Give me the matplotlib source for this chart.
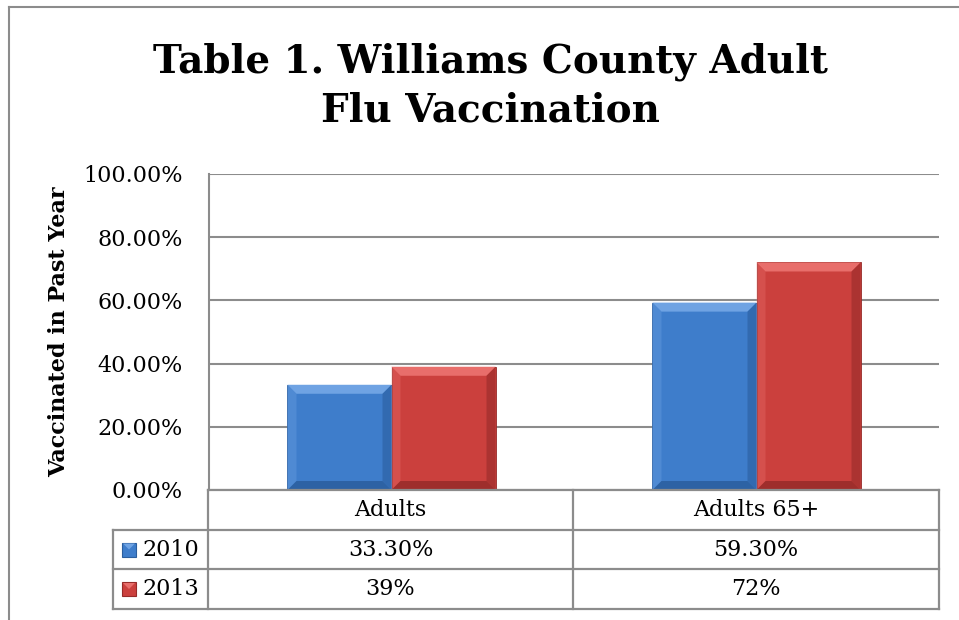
import matplotlib
matplotlib.use("Agg")
import matplotlib.pyplot as plt
from matplotlib.patches import Polygon, Rectangle
from matplotlib.lines import Line2D
import numpy as np

# data
categories = ["Adults", "Adults 65+"]
years = ["2010", "2013"]
vals_2010 = [33.3, 59.3]
vals_2013 = [39, 72]
yticks = [0, 20, 40, 60, 80, 100]

plt.rcParams["font.family"] = ["DejaVu Serif"]

colors = {"2010": ("#3e7dcb", "#6fa3e3", "#2b5e9e"),
          "2013": ("#cb403d", "#e86e6b", "#962b29")}
gray = "#8c8c8c"

fig = plt.figure(figsize=(9.59, 6.2), dpi=100)
ax = fig.add_axes([209 / 959, 1 - 490 / 620, 730 / 959, 316 / 620])

x = np.arange(len(categories))
w = 0.285
series = [("2010", vals_2010), ("2013", vals_2013)]


def bevel(ax, bar, cols, px=9):
    # fake the excel bevel: light top/left, dark bottom/right
    main, light, dark = cols
    x0, y0 = bar.get_x(), bar.get_y()
    x1, y1 = x0 + bar.get_width(), y0 + bar.get_height()
    inv = ax.transData.inverted()
    p0 = inv.transform(ax.transData.transform((x0, y0)) + np.array([px, px]))
    bx, by = p0[0] - x0, p0[1] - y0
    ax.add_patch(Polygon([(x0, y1), (x1, y1), (x1 - bx, y1 - by), (x0 + bx, y1 - by)],
                         closed=True, fc=light, ec="none", zorder=4))
    ax.add_patch(Polygon([(x0, y0), (x0, y1), (x0 + bx, y1 - by), (x0 + bx, y0 + by)],
                         closed=True, fc=light, ec="none", alpha=0.35, zorder=4))
    ax.add_patch(Polygon([(x1, y0), (x1, y1), (x1 - bx, y1 - by), (x1 - bx, y0 + by)],
                         closed=True, fc=dark, ec="none", alpha=0.6, zorder=4))
    ax.add_patch(Polygon([(x0, y0), (x1, y0), (x1 - bx, y0 + by), (x0 + bx, y0 + by)],
                         closed=True, fc=dark, ec="none", alpha=0.85, zorder=4))


ax.set_xlim(-0.5, len(categories) - 0.5)
ax.set_ylim(0, 100)

for i, (name, vals) in enumerate(series):
    bars = ax.bar(x + (i - 0.5) * w, vals, w, color=colors[name][0],
                  edgecolor=colors[name][2], linewidth=0.6, zorder=3)
    for b in bars:
        bevel(ax, b, colors[name])

ax.set_yticks(yticks)
ax.set_yticklabels([f"{t:.2f}%" for t in yticks], fontsize=16)
ax.yaxis.grid(True, color=gray, linewidth=1.5, zorder=0)
ax.set_xticks([])
ax.tick_params(axis="y", length=0, pad=19)
for s in ["top", "right", "bottom"]:
    ax.spines[s].set_visible(False)
ax.spines["left"].set_color(gray)
ax.spines["left"].set_linewidth(1.5)
ax.set_ylabel("Vaccinated in Past Year", fontsize=16, fontweight="bold", labelpad=9)

# data table under the axes
def fx(px):
    return px / 959

def fy(py):
    return 1 - py / 620

lw = 1.6
rows_y = [490, 530, 569, 609]
col_x = [113, 208, 573, 939]
# horizontal lines
fig.add_artist(Line2D([fx(208), fx(939)], [fy(490), fy(490)], color=gray, lw=lw))
for ry in rows_y[1:]:
    fig.add_artist(Line2D([fx(113), fx(939)], [fy(ry), fy(ry)], color=gray, lw=lw))
# vertical lines
fig.add_artist(Line2D([fx(113), fx(113)], [fy(530), fy(609)], color=gray, lw=lw))
for cx in col_x[1:]:
    fig.add_artist(Line2D([fx(cx), fx(cx)], [fy(490), fy(609)], color=gray, lw=lw))

for j, cat in enumerate(categories):
    cxm = (col_x[j + 1] + col_x[j + 2]) / 2
    fig.text(fx(cxm), fy((rows_y[0] + rows_y[1]) / 2), cat, ha="center",
             va="center", fontsize=16)
    for i, (name, vals) in enumerate(series):
        v = vals[j]
        lab = f"{v:.0f}%" if float(v).is_integer() else f"{v:.2f}%"
        fig.text(fx(cxm), fy((rows_y[i + 1] + rows_y[i + 2]) / 2), lab,
                 ha="center", va="center", fontsize=16)

for i, (name, vals) in enumerate(series):
    cy = (rows_y[i + 1] + rows_y[i + 2]) / 2
    main, light, dark = colors[name]
    fig.add_artist(Rectangle((fx(122), fy(cy + 7)), fx(14), 14 / 620,
                             fc=main, ec=dark, lw=0.8))
    fig.add_artist(Polygon([(fx(123), fy(cy - 6)), (fx(135), fy(cy - 6)),
                            (fx(129), fy(cy))], closed=True, fc=light, ec="none"))
    fig.text(fx(142), fy(cy), name, ha="left", va="center", fontsize=16)

# outer chart border (cropped)
fig.add_artist(Line2D([fx(9), fx(9)], [fy(7), 0], color=gray, lw=1.5))
fig.add_artist(Line2D([fx(9), 1], [fy(7), fy(7)], color=gray, lw=1.5))

fig.text(490 / 959, fy(86), "Table 1. Williams County Adult\nFlu Vaccination",
         ha="center", va="center", fontsize=28, fontweight="bold", linespacing=1.38)

fig.savefig("out.png", dpi=100)
